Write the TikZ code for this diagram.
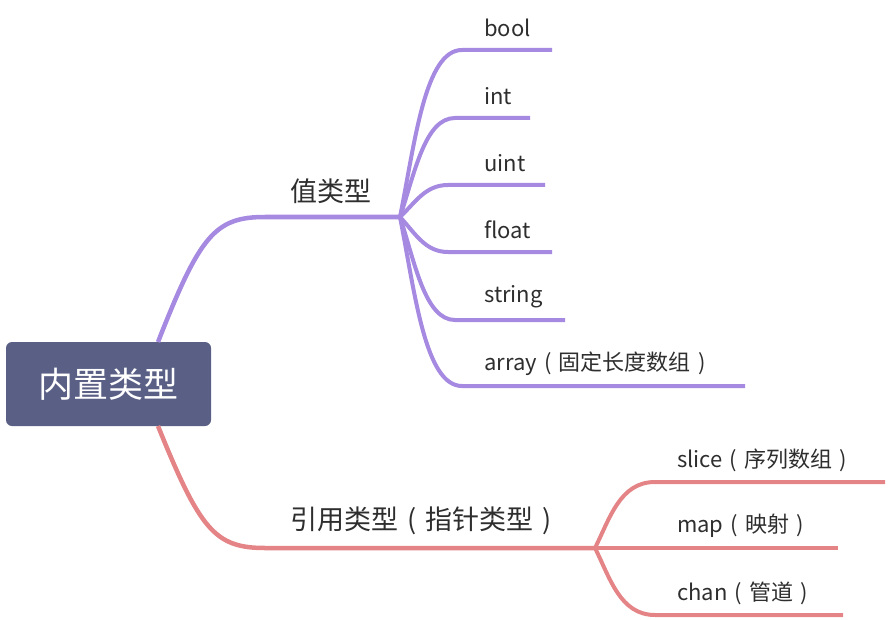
\documentclass[tikz,border=0pt]{standalone}
\usepackage{fontspec}
\newfontfamily\cjk{Noto Sans CJK SC}
\newcommand{\lpar}{\makebox[1em][c]{(}}
\newcommand{\rpar}{\makebox[1em][c]{)}}
\definecolor{rootc}{HTML}{5A6085}
\definecolor{purp}{HTML}{A689E0}
\definecolor{redc}{HTML}{E48486}
\definecolor{txt}{HTML}{2E2E2E}
\tikzset{
  leaftext/.style={anchor=west,inner sep=0pt,text=txt,font=\cjk\fontsize{22}{26}\selectfont},
  branchtext/.style={anchor=west,inner sep=0pt,text=txt,font=\cjk\fontsize{27}{31}\selectfont},
  rootbox/.style={fill=rootc,rounded corners=6pt,text=white,font=\cjk\fontsize{35}{40}\selectfont,minimum width=205pt,minimum height=84pt,inner sep=0pt},
  pline/.style={draw=purp,line width=4pt},
  rline/.style={draw=redc,line width=4pt},
}
\begin{document}
\begin{tikzpicture}[x=1pt,y=-1pt]
\useasboundingbox (0,0) rectangle (890,620);
% root
\node[rootbox] (root) at (108.5,384) {内置类型};
\coordinate (rtop) at (158,342);
\coordinate (rbot) at (158,426);
% value branch
\coordinate (vstart) at (265,217);
\coordinate (vfork) at (400,217);
\draw[pline,line width=4.5pt] (rtop) .. controls (200,235) and (215,217) .. (vstart) -- (vfork);
\node[branchtext] (val) at (290,191) {值类型};
% purple leaves
\coordinate (b1) at (462,50);  \coordinate (e1) at (552,50);
\coordinate (b2) at (455,118); \coordinate (e2) at (530,118);
\coordinate (b3) at (448,185); \coordinate (e3) at (545,185);
\coordinate (b4) at (448,252); \coordinate (e4) at (552,252);
\coordinate (b5) at (455,320); \coordinate (e5) at (565,320);
\coordinate (b6) at (462,386); \coordinate (e6) at (745,386);
\draw[pline] (vfork) .. controls (415,142) and (425,50) .. (b1) -- (e1);
\draw[pline] (vfork) .. controls (415,172) and (425,118) .. (b2) -- (e2);
\draw[pline] (vfork) .. controls (415,203) and (425,185) .. (b3) -- (e3);
\draw[pline] (vfork) .. controls (415,233) and (425,252) .. (b4) -- (e4);
\draw[pline] (vfork) .. controls (415,263) and (425,320) .. (b5) -- (e5);
\draw[pline] (vfork) .. controls (415,293) and (425,386) .. (b6) -- (e6);
\node[leaftext] (l1) at (484,28) {bool};
\node[leaftext] (l2) at (484,96) {int};
\node[leaftext] (l3) at (484,163) {uint};
\node[leaftext] (l4) at (484,230) {float};
\node[leaftext] (l5) at (484,297) {string};
\node[leaftext] (l6) at (484,364) {array\lpar 固定长度数组\rpar};
% reference branch
\coordinate (rstart) at (265,548);
\coordinate (rfork) at (595,548);
\draw[rline,line width=4.5pt] (rbot) .. controls (200,530) and (215,548) .. (rstart) -- (rfork);
\node[branchtext] (ref) at (290,521) {引用类型\lpar 指针类型\rpar};
\coordinate (s1) at (655,482); \coordinate (t1) at (885,482);
\coordinate (t2) at (838,548);
\coordinate (s3) at (655,615); \coordinate (t3) at (843,615);
\draw[rline] (rfork) .. controls (610,518) and (620,482) .. (s1) -- (t1);
\draw[rline] (rfork) -- (t2);
\draw[rline] (rfork) .. controls (610,578) and (620,615) .. (s3) -- (t3);
\node[leaftext] (m1) at (677,460) {slice\lpar 序列数组\rpar};
\node[leaftext] (m2) at (677,526) {map\lpar 映射\rpar};
\node[leaftext] (m3) at (677,593) {chan\lpar 管道\rpar};
\end{tikzpicture}
\end{document}
